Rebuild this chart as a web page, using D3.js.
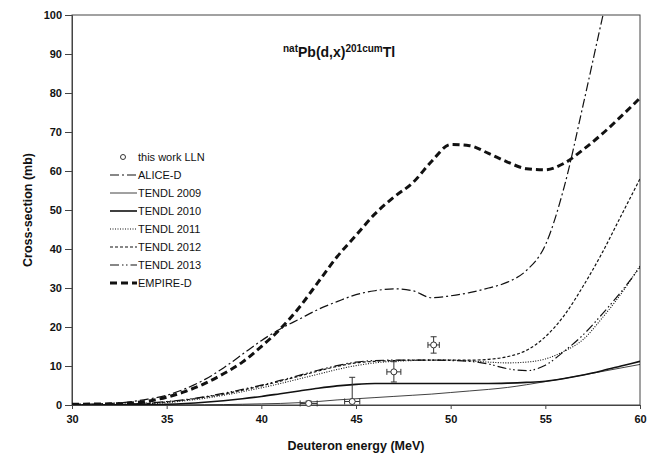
<!DOCTYPE html>
<html>
<head>
<meta charset="utf-8">
<script src="https://cdn.jsdelivr.net/npm/d3@7"></script>
<style>
  body { margin: 0; background: #fff; }
  #graph { width: 667px; height: 459px; }
  text { font-family: Arial, "Liberation Sans", sans-serif; fill: #111; }
</style>
</head>
<body>
<div id="graph"></div>
<script>
// energy grid shared by the model curves (MeV)
var energies = [30, 32, 34, 35, 36, 37, 38, 39, 40, 41, 42, 43, 44, 45, 46, 47, 48, 49, 50, 51, 52, 53, 54, 55, 56, 57, 58, 59, 60];

var aliceD   = [0.2, 0.4, 1.5, 2.5, 4.2, 6.5, 9.5, 13, 16.5, 19.5, 22, 24.5, 26.5, 28.3, 29.3, 29.8, 29.3, 27.5, 28, 28.8, 30, 31.5, 34.5, 41, 56, 77, 99, 120, 141];
var tendl2009 = [0, 0, 0, 0, 0, 0.05, 0.1, 0.2, 0.3, 0.4, 0.6, 0.9, 1.3, 1.6, 1.9, 2.2, 2.5, 2.8, 3.2, 3.6, 4, 4.5, 5.2, 6, 6.8, 7.7, 8.6, 9.5, 10.4];
var tendl2010 = [0, 0, 0.1, 0.2, 0.4, 0.7, 1.1, 1.6, 2.2, 2.9, 3.6, 4.3, 4.9, 5.3, 5.5, 5.5, 5.5, 5.5, 5.5, 5.5, 5.5, 5.6, 5.8, 6.1, 6.8, 7.7, 8.8, 10, 11.2];
var tendl2011 = [0, 0.1, 0.3, 0.6, 1.1, 1.7, 2.5, 3.4, 4.4, 5.5, 6.7, 7.9, 9.1, 10.1, 10.8, 11.2, 11.4, 11.5, 11.5, 11.3, 11, 10.8, 11, 11.8, 13.8, 16.8, 22.3, 28.5, 35.7];
var tendl2012 = [0, 0.1, 0.4, 0.8, 1.3, 2, 2.8, 3.8, 4.9, 6.1, 7.4, 8.7, 9.9, 10.8, 11.2, 11.4, 11.5, 11.5, 11.5, 11.5, 11.7, 12.4, 14, 17.5, 23, 30.5, 39, 48.5, 58];
var tendl2013 = [0, 0.1, 0.5, 0.9, 1.4, 2.1, 3, 4, 5.1, 6.3, 7.6, 8.9, 10.1, 11, 11.4, 11.5, 11.5, 11.5, 11.4, 11.2, 10.5, 9.3, 8.8, 10.2, 13.8, 18, 23.3, 29, 35.3];
var empireD  = [0.2, 0.3, 1, 2, 3.5, 5.5, 8, 11, 15, 19.5, 25, 31.5, 38, 43.5, 49, 53.3, 57, 62.5, 66.8, 66.5, 64.5, 62.3, 60.6, 60.3, 62, 65.5, 69.5, 74, 78.7];

// this work LLN
var expE  = [42.5, 44.8, 47.0, 49.1];
var expV  = [0.4, 0.9, 8.5, 15.4];
var expDE = [0.45, 0.4, 0.37, 0.3];
var expDV = [0.6, 6.2, 2.6, 2.1];

var xTicks = [30, 35, 40, 45, 50, 55, 60];
var yTicks = [0, 10, 20, 30, 40, 50, 60, 70, 80, 90, 100];

var series = [
    { name: "ALICE-D",   values: aliceD,    width: 1.2, dash: "9,3,2,3" },
    { name: "TENDL 2009", values: tendl2009, width: 0.8, dash: null },
    { name: "TENDL 2010", values: tendl2010, width: 1.6, dash: null },
    { name: "TENDL 2011", values: tendl2011, width: 1.1, dash: "1,1.5" },
    { name: "TENDL 2012", values: tendl2012, width: 1.2, dash: "3,2" },
    { name: "TENDL 2013", values: tendl2013, width: 1.2, dash: "9,3,1.5,2.5,1.5,3" },
    { name: "EMPIRE-D",  values: empireD,   width: 3,   dash: "7,4" }
];

var margin = { top: 15, right: 27, bottom: 54, left: 72 },
    width = 667 - margin.left - margin.right,
    height = 459 - margin.top - margin.bottom;

var x = d3.scaleLinear().domain([30, 60]).range([0, width]);
var y = d3.scaleLinear().domain([0, 100]).range([height, 0]);

var svg = d3.select("#graph").append("svg")
    .attr("width", 667)
    .attr("height", 459)
    .append("g")
    .attr("transform", "translate(" + margin.left + "," + margin.top + ")");

svg.append("clipPath").attr("id", "plot-clip")
    .append("rect").attr("width", width).attr("height", height);

// frame
svg.append("rect")
    .attr("width", width)
    .attr("height", height)
    .attr("fill", "none")
    .attr("stroke", "#444")
    .attr("stroke-width", 1);

// axes
var xAxis = svg.append("g")
    .attr("transform", "translate(0," + height + ")")
    .call(d3.axisBottom(x).tickValues(xTicks).tickSize(4).tickPadding(6));
var yAxis = svg.append("g")
    .call(d3.axisLeft(y).tickValues(yTicks).tickSize(7).tickPadding(3));

[xAxis, yAxis].forEach(function (a) {
    a.select(".domain").attr("stroke", "#444");
    a.selectAll(".tick line").attr("stroke", "#444");
    a.selectAll(".tick text")
        .attr("font-family", "Arial, 'Liberation Sans', sans-serif")
        .attr("font-size", 11)
        .attr("font-weight", "bold")
        .attr("fill", "#111");
});

// axis titles
svg.append("text")
    .attr("x", width / 2)
    .attr("y", height + 45)
    .attr("text-anchor", "middle")
    .attr("font-size", 12.5)
    .attr("font-weight", "bold")
    .text("Deuteron energy (MeV)");

svg.append("text")
    .attr("transform", "translate(" + (-40) + "," + (height / 2) + ") rotate(-90)")
    .attr("text-anchor", "middle")
    .attr("font-size", 12.5)
    .attr("font-weight", "bold")
    .text("Cross-section (mb)");

// reaction title
var title = svg.append("text")
    .attr("x", 283 - margin.left)
    .attr("y", 57 - margin.top)
    .attr("font-weight", "bold")
    .attr("font-size", 14);
title.append("tspan").attr("font-size", 10).attr("dy", -5).text("nat");
title.append("tspan").attr("dy", 5).text("Pb(d,x)");
title.append("tspan").attr("font-size", 10).attr("dy", -5).text("201cum");
title.append("tspan").attr("dy", 5).text("Tl");

// model curves
var line = d3.line()
    .x(function (d, i) { return x(energies[i]); })
    .y(function (d) { return y(d); })
    .curve(d3.curveMonotoneX);

var curves = svg.append("g").attr("clip-path", "url(#plot-clip)");
series.forEach(function (s) {
    curves.append("path")
        .datum(s.values)
        .attr("fill", "none")
        .attr("stroke", "#111")
        .attr("stroke-width", s.width)
        .attr("stroke-dasharray", s.dash)
        .attr("d", line);
});

// measured points with error bars
var pts = svg.append("g").attr("stroke", "#333").attr("stroke-width", 1);
expE.forEach(function (e, i) {
    var cx = x(e), cy = y(expV[i]);
    var x0 = x(e - expDE[i]), x1 = x(e + expDE[i]);
    var y0 = y(Math.max(0, expV[i] - expDV[i])), y1 = y(expV[i] + expDV[i]);
    pts.append("line").attr("x1", x0).attr("x2", x1).attr("y1", cy).attr("y2", cy);
    pts.append("line").attr("x1", x0).attr("x2", x0).attr("y1", cy - 3).attr("y2", cy + 3);
    pts.append("line").attr("x1", x1).attr("x2", x1).attr("y1", cy - 3).attr("y2", cy + 3);
    pts.append("line").attr("x1", cx).attr("x2", cx).attr("y1", y0).attr("y2", y1);
    pts.append("line").attr("x1", cx - 3).attr("x2", cx + 3).attr("y1", y1).attr("y2", y1);
    if (expV[i] - expDV[i] > 0)
        pts.append("line").attr("x1", cx - 3).attr("x2", cx + 3).attr("y1", y0).attr("y2", y0);
    pts.append("circle").attr("cx", cx).attr("cy", cy).attr("r", 3).attr("fill", "#fff");
});

// legend
var legend = svg.append("g").attr("transform", "translate(" + (110 - margin.left) + "," + (157 - margin.top) + ")");
var legendItems = [{ name: "this work LLN", marker: true }].concat(series);
legendItems.forEach(function (s, i) {
    var g = legend.append("g").attr("transform", "translate(0," + (i * 18) + ")");
    if (s.marker) {
        g.append("circle").attr("cx", 13).attr("cy", 0).attr("r", 2.5)
            .attr("fill", "#fff").attr("stroke", "#333");
    } else {
        g.append("line").attr("x1", 0).attr("x2", 27).attr("y1", 0).attr("y2", 0)
            .attr("stroke", "#111")
            .attr("stroke-width", s.width)
            .attr("stroke-dasharray", s.dash);
    }
    g.append("text")
        .attr("x", 28)
        .attr("y", 4)
        .attr("font-size", 11)
        .text(s.name);
});
</script>
</body>
</html>
